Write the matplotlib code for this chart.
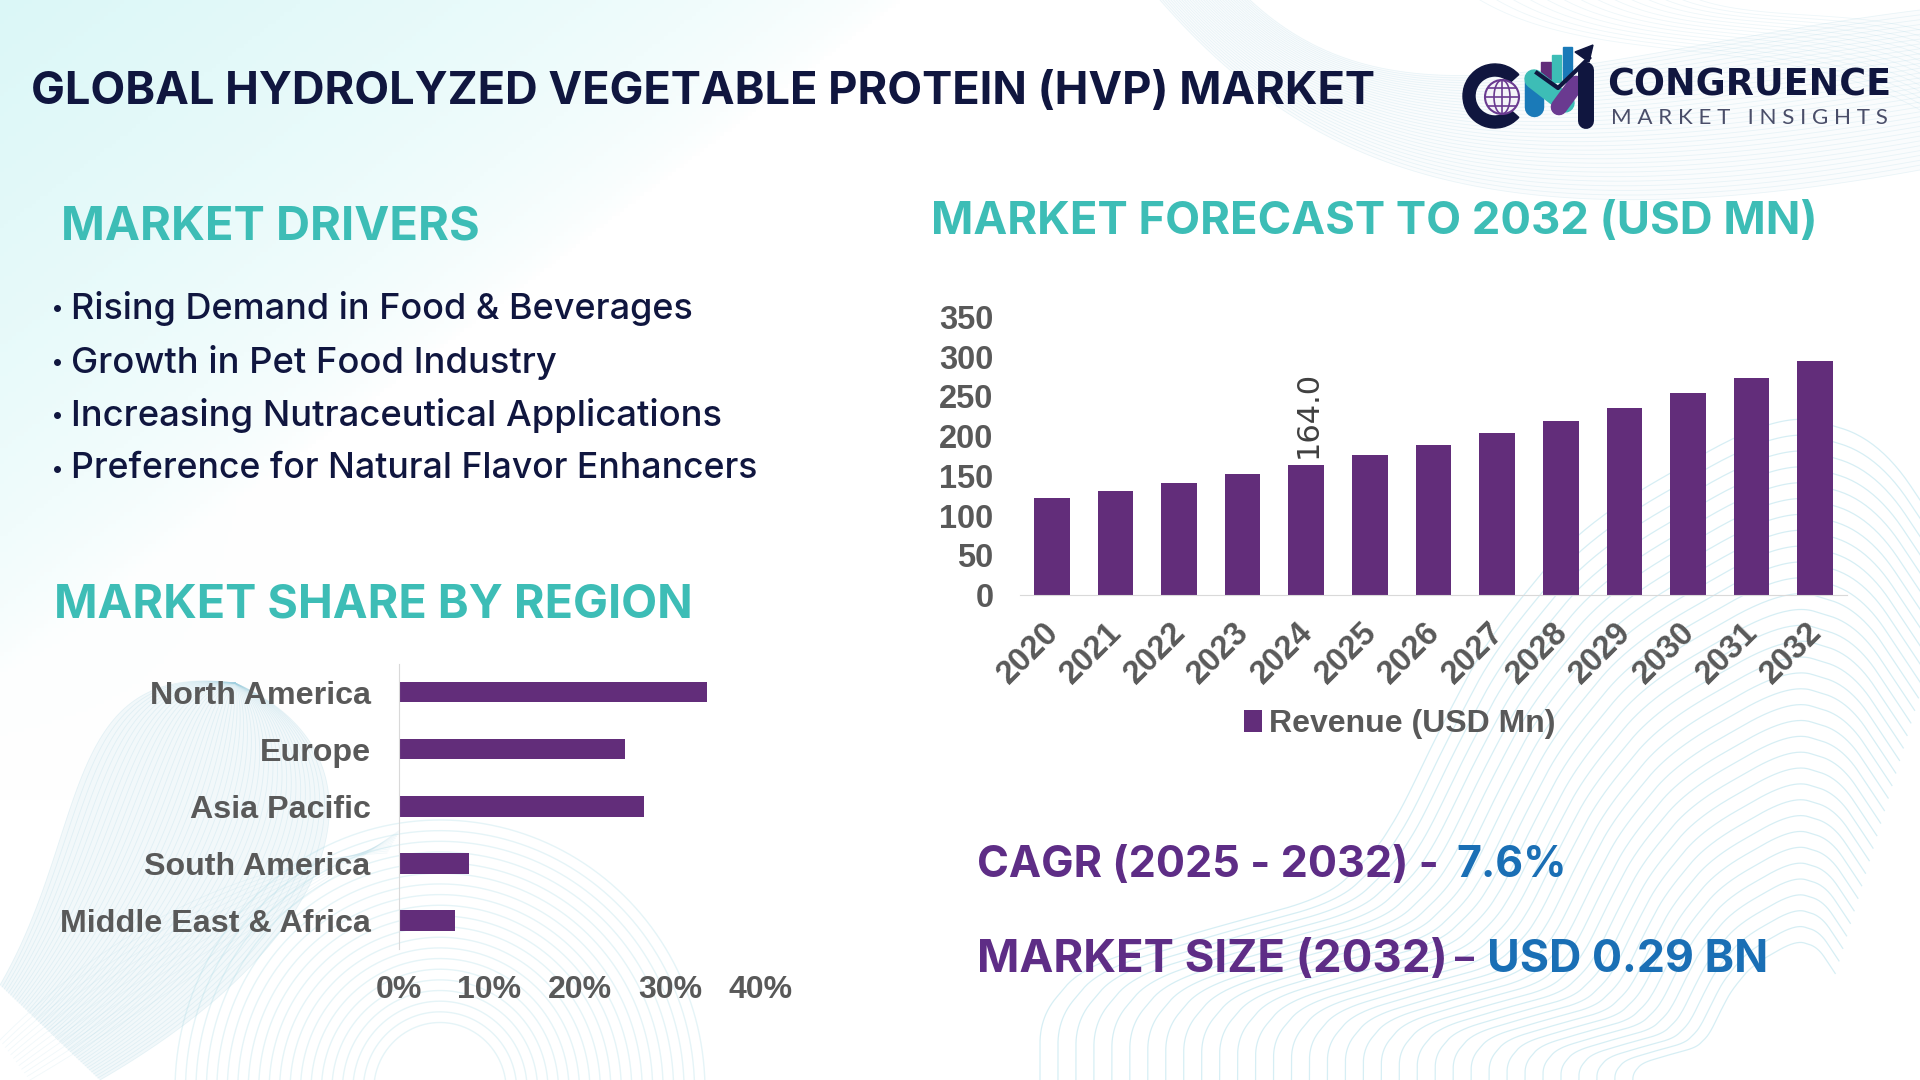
import numpy as np
import matplotlib
matplotlib.use('Agg')
import matplotlib.pyplot as plt
from matplotlib.patches import Wedge, Circle, Rectangle, Polygon
from matplotlib.transforms import ScaledTranslation

# chart values
years = ['2020', '2021', '2022', '2023', '2024', '2025', '2026', '2027', '2028', '2029', '2030', '2031', '2032']
revenue = [122, 131, 141, 152, 164, 176, 189, 204, 219, 236, 254, 273, 295]
regions = ['North America', 'Europe', 'Asia Pacific', 'South America', 'Middle East & Africa']
region_share = [34.0, 25.0, 27.1, 7.8, 6.2]
drivers = ['Rising Demand in Food & Beverages', 'Growth in Pet Food Industry',
           'Increasing Nutraceutical Applications', 'Preference for Natural Flavor Enhancers']

PURPLE = '#622d7a'
TEAL = '#3dbdb6'
NAVY = '#10163f'
GREY = '#595959'
HEADFONT = 'Inter'
W, H = 1920, 1080

fig = plt.figure(figsize=(19.2, 10.8), dpi=100)

# background layer in pixel coordinates
bg = fig.add_axes([0, 0, 1, 1])
bg.set_xlim(0, W)
bg.set_ylim(H, 0)
bg.axis('off')

# cyan wash in the top left corner
yy, xx = np.mgrid[0:H:270j, 0:W:480j]
wash = np.clip(1 - (xx / 900 + yy / 680), 0, 1) ** 0.6
wash = np.maximum(wash, 0.35 * np.clip(1 - xx / 300, 0, 1) * np.clip(1 - yy / 800, 0, 1))
img = np.ones((270, 480, 3))
img[..., 0] = 1 - wash * 0.14
img[..., 1] = 1 - wash * 0.03
img[..., 2] = 1 - wash * 0.03
bg.imshow(img, extent=[0, W, H, 0], aspect='auto', zorder=0)


def bezier(p, n=120):
    p = np.array(p, dtype=float)
    t = np.linspace(0, 1, n)[:, None]
    while len(p) > 1:
        p = [p[i] * (1 - t) + p[i + 1] * t for i in range(len(p) - 1)]
        p = np.array(p)
    return p[0]


def ribbon(edge_a, edge_b, count, color='#9fd0e0', alpha=0.35, lw=0.6, fill=None):
    a = bezier(edge_a)
    b = bezier(edge_b)
    if fill:
        bg.fill(np.r_[a[:, 0], b[::-1, 0]], np.r_[a[:, 1], b[::-1, 1]], color=fill, lw=0, zorder=1)
    for k in np.linspace(0, 1, count):
        c = a * (1 - k) + b * k
        bg.plot(c[:, 0], c[:, 1], color=color, alpha=alpha, lw=lw, zorder=1)


def arcs(cx, cy, rx, ry, count, color='#a9dbe6', alpha=0.3, lw=1.0):
    t = np.linspace(np.pi, 2 * np.pi, 200)
    for k in np.linspace(0.25, 1, count):
        bg.plot(cx + rx * k * np.cos(t), cy + ry * k * np.sin(t), color=color, alpha=alpha, lw=lw, zorder=1)


# top right ribbons
ribbon([(1160, 0), (1300, 160), (1480, 250), (1920, 170)], [(1250, 0), (1400, 140), (1600, 50), (1920, 10)], 34, alpha=0.2, fill='#fafcfd')
ribbon([(1480, 0), (1600, 70), (1780, 30), (1920, 110)], [(1700, 0), (1760, 20), (1850, 10), (1920, 30)], 14, alpha=0.18)
# bottom left ribbon
ribbon([(0, 985), (90, 830), (60, 660), (235, 683)], [(100, 1080), (360, 930), (390, 750), (235, 683)], 48, alpha=0.22, fill='#f2f8fa')
ribbon([(0, 1040), (120, 920), (250, 860), (387, 853)], [(30, 1080), (150, 1010), (300, 900), (400, 830)], 12, alpha=0.15)
# arcs at the bottom
arcs(440, 1090, 265, 270, 20)

# big wave on the lower right, the same outline shrunk towards one point
out_x = [1040, 1040, 1082, 1205, 1327, 1376, 1401, 1438, 1487, 1583, 1781, 1880, 1960]
out_y = [1085, 1017, 967, 930, 897, 850, 810, 733, 640, 523, 410, 440, 560]
smooth = np.ones(25) / 25
wave_x = np.convolve(np.interp(np.linspace(-1, len(out_x), 450), np.arange(len(out_x)), out_x), smooth, mode='valid')
wave_y = np.convolve(np.interp(np.linspace(-1, len(out_x), 450), np.arange(len(out_x)), out_y), smooth, mode='valid')
for k in np.linspace(0.22, 1, 34):
    bg.plot(1800 + k * (wave_x - 1800), 1090 + k * (wave_y - 1090), color='#9fd8e6', alpha=0.42, lw=0.9, zorder=1)

renderer = fig.canvas.get_renderer()


def fit_text(x0, x1, yc, s, color, weight='bold', family=HEADFONT):
    # scale the font so the string runs from x0 to x1
    t = bg.text(x0, yc, s, color=color, fontweight=weight, family=family, fontsize=30, va='center_baseline', ha='left', zorder=5)
    w = t.get_window_extent(renderer).width
    t.set_fontsize(30 * (x1 - x0) / w)
    return t


fit_text(31, 1374, 88, 'GLOBAL HYDROLYZED VEGETABLE PROTEIN (HVP) MARKET', NAVY)
fit_text(61, 479, 223, 'MARKET DRIVERS', TEAL)
fit_text(54, 692, 601, 'MARKET SHARE BY REGION', TEAL)
fit_text(931, 1816, 218, 'MARKET FORECAST TO 2032 (USD MN)', TEAL)

bullet_ends = [693, 557, 722, 757]
for i, item in enumerate(drivers):
    bg.plot([57], [308 + i * 53.5], marker='o', ms=4, color=NAVY, zorder=5)
    fit_text(71, bullet_ends[i], 305 + i * 53.5, item, NAVY, weight='medium')

fit_text(977, 1438, 861, 'CAGR (2025 - 2032) -', '#5e2d86')
fit_text(1456, 1566, 861, '7.6%', '#1a6fb5')
fit_text(977, 1447, 956, 'MARKET SIZE (2032)', '#5e2d86')
fit_text(1455, 1474, 956, '\u2013', '#5e2d86')
fit_text(1487, 1768, 956, 'USD 0.29 BN', '#1a6fb5')

# logo
bg.add_patch(Wedge((1495, 96), 32, 42, 318, width=12, color=NAVY, zorder=5))
bg.add_patch(Circle((1502, 97), 17, fc='#f4f4f8', ec='#6a3a90', lw=1.5, zorder=5))
for dy in (-9, 0, 9):
    half = np.sqrt(17 ** 2 - dy ** 2)
    bg.plot([1502 - half, 1502 + half], [97 + dy, 97 + dy], color='#6a3a90', lw=1.2, zorder=6)
t_g = np.linspace(-1, 1, 30)
for rx in (0, 8, -8):
    bg.plot(1502 + rx * np.sqrt(1 - t_g ** 2), 97 + 17 * t_g, color='#6a3a90', lw=1.2, zorder=6)
for x0, x1, top, col in [(1541, 1551, 62, '#622d7a'), (1552, 1561, 55, TEAL), (1563, 1572, 47, '#1a7ab8')]:
    bg.add_patch(Rectangle((x0, top), x1 - x0, 82 - top, color=col, zorder=5))
bg.plot([1534, 1534], [82, 107], color='#1a7ab8', lw=14, solid_capstyle='round', zorder=6)
bg.plot([1534, 1565], [79, 103], color=TEAL, lw=14, solid_capstyle='round', zorder=7)
bg.plot([1559, 1576], [107, 84], color='#6a3a90', lw=12, solid_capstyle='round', zorder=7)
bg.plot([1586, 1586], [70, 121], color=NAVY, lw=11.5, solid_capstyle='round', zorder=7)
bg.plot([1537, 1558, 1589], [73, 88, 58], color=NAVY, lw=3, zorder=8)
bg.add_patch(Polygon([(1593, 45), (1575, 52), (1589, 62)], color=NAVY, zorder=8))
fit_text(1607, 1891, 81, 'CONGRUENCE', NAVY, weight='bold', family='DejaVu Sans')
fit_text(1611, 1887, 116, 'M A R K E T   I N S I G H T S', '#4a4e69', weight='normal', family='Lato')

# forecast bars
ax = fig.add_axes([1020 / W, 1 - 595 / H, 827 / W, 278 / H])
ax.patch.set_alpha(0)
x = np.arange(len(years))
ax.bar(x, revenue, width=0.56, color=PURPLE, label='Revenue (USD Mn)')
ax.set_xlim(-0.5, len(years) - 0.5)
ax.set_ylim(0, 350)
ax.set_yticks(range(0, 351, 50))
ax.set_xticks(x)
ax.set_xticklabels(years, rotation=45, ha='right', rotation_mode='anchor')
ax.tick_params(axis='y', length=0, pad=19)
ax.tick_params(axis='x', length=0, pad=16)
shift = ScaledTranslation(-9 / 100, 0, fig.dpi_scale_trans)
for lab in ax.get_xticklabels():
    lab.set_transform(lab.get_transform() + shift)
for lab in ax.get_xticklabels() + ax.get_yticklabels():
    lab.set(family='Liberation Sans', fontweight='bold', fontsize=23.5, color=GREY)
for side in ['top', 'left', 'right']:
    ax.spines[side].set_visible(False)
ax.spines['bottom'].set_color('#d9d9d9')
ax.text(4.03, revenue[4] + 9, '%.1f' % revenue[4], rotation=90, ha='center', va='bottom', fontsize=22, color='#404040', family='DejaVu Sans')
leg = ax.legend(loc='center', bbox_to_anchor=(1400 / W, 1 - 724 / H), bbox_transform=fig.transFigure, frameon=False,
                handlelength=0.55, handleheight=0.7, handletextpad=0.22, prop={'family': 'Liberation Sans', 'weight': 'bold', 'size': 23})
leg.get_texts()[0].set_color(GREY)

# region bars
ax2 = fig.add_axes([398.5 / W, 1 - 949 / H, 362.5 / W, 285.5 / H])
ax2.patch.set_alpha(0)
y = np.arange(len(regions))
ax2.barh(y, region_share, height=0.36, color=PURPLE)
ax2.set_ylim(len(regions) - 0.5, -0.5)
ax2.set_xlim(0, 40)
ax2.set_yticks(y)
ax2.set_yticklabels(regions)
ax2.set_xticks(range(0, 41, 10))
ax2.set_xticklabels(['%d%%' % v for v in range(0, 41, 10)])
ax2.tick_params(axis='y', length=0, pad=20)
ax2.tick_params(axis='x', length=0, pad=19)
for lab in ax2.get_yticklabels():
    lab.set(family='Liberation Sans', fontweight='bold', fontsize=23.2, color=GREY)
for lab in ax2.get_xticklabels():
    lab.set(family='Liberation Sans', fontweight='bold', fontsize=23, color=GREY)
for side in ['top', 'bottom', 'right']:
    ax2.spines[side].set_visible(False)
ax2.spines['left'].set_color('#d9d9d9')

fig.savefig('out.png', dpi=100)
